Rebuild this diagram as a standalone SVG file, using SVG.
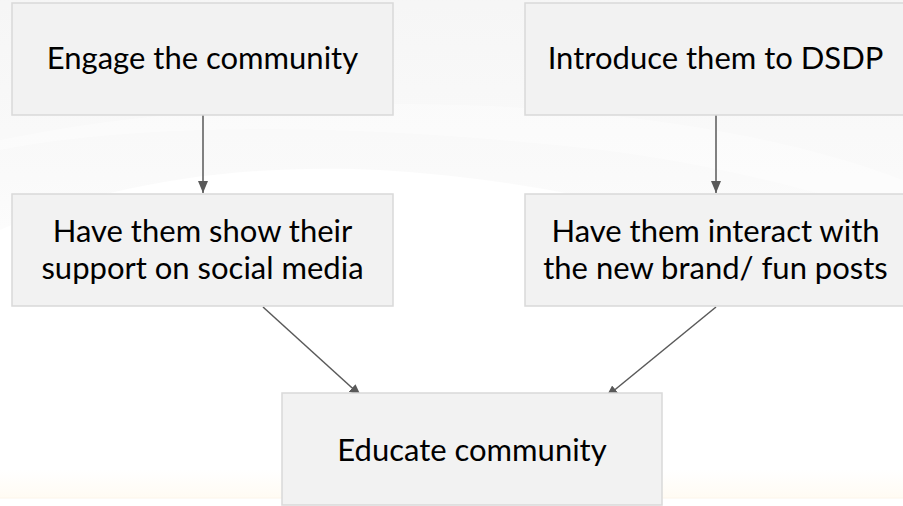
<svg xmlns="http://www.w3.org/2000/svg" width="903" height="506" viewBox="0 0 903 506">
  <defs>
    <style>
      .box { fill: #f2f2f2; stroke: #d9d9d9; stroke-width: 1.5; }
      .label { font-family: Lato, "Open Sans", "Liberation Sans", sans-serif; font-size: 31px; fill: #000000; text-anchor: middle; }
      .edge { stroke: #595959; stroke-width: 1.5; fill: none; marker-end: url(#arrow); }
    </style>
    <marker id="arrow" viewBox="0 0 12 10" refX="12" refY="5" markerWidth="12" markerHeight="10" markerUnits="userSpaceOnUse" orient="auto">
      <path d="M0,0 L12,5 L0,10 Z" fill="#595959"/>
    </marker>
    <linearGradient id="haze" x1="0" y1="0" x2="0" y2="1">
      <stop offset="0" stop-color="#f2f2f2"/>
      <stop offset="0.6" stop-color="#f8f8f8"/>
      <stop offset="1" stop-color="#ffffff"/>
    </linearGradient>
    <linearGradient id="floor" x1="0" y1="0" x2="0" y2="1">
      <stop offset="0" stop-color="#ffffff"/>
      <stop offset="1" stop-color="#fffbf3"/>
    </linearGradient>
  </defs>

  <!-- backdrop -->
  <rect width="903" height="506" fill="#ffffff"/>
  <path d="M0,0 H903 V300 C760,230 560,180 380,170 C220,162 90,190 0,230 Z" fill="url(#haze)" opacity="0.7"/>
  <path d="M0,150 C160,120 380,125 600,150 C700,162 820,190 903,220 V180 C800,140 640,110 460,105 C280,100 120,115 0,140 Z" fill="#ffffff" opacity="0.35"/>
  <rect x="0" y="470" width="903" height="28" fill="url(#floor)"/>
  <line x1="0" y1="498" x2="903" y2="498" stroke="#fcf5ea" stroke-width="1"/>

  <g id="connectors">
    <line class="edge" x1="203" y1="115" x2="203" y2="193"/>
    <line class="edge" x1="716" y1="115" x2="716" y2="193"/>
    <line class="edge" x1="263" y1="307" x2="361" y2="396"/>
    <line class="edge" x1="716" y1="307" x2="606" y2="397"/>
  </g>

  <g id="engage">
    <rect class="box" x="12" y="3" width="381" height="112"/>
    <text class="label" x="202.5" y="69">Engage the community</text>
  </g>

  <g id="introduce">
    <rect class="box" x="525" y="3" width="381" height="112"/>
    <text class="label" x="715.5" y="69">Introduce them to DSDP</text>
  </g>

  <g id="show-support">
    <rect class="box" x="12" y="194" width="381" height="112"/>
    <text class="label" x="202.5" y="242">Have them show their</text>
    <text class="label" x="202.5" y="279">support on social media</text>
  </g>

  <g id="interact">
    <rect class="box" x="525" y="194" width="381" height="112"/>
    <text class="label" x="715.5" y="242">Have them interact with</text>
    <text class="label" x="715.5" y="279">the new brand/ fun posts</text>
  </g>

  <g id="educate">
    <rect class="box" x="282" y="393" width="380" height="112"/>
    <text class="label" x="472" y="461">Educate community</text>
  </g>
</svg>
